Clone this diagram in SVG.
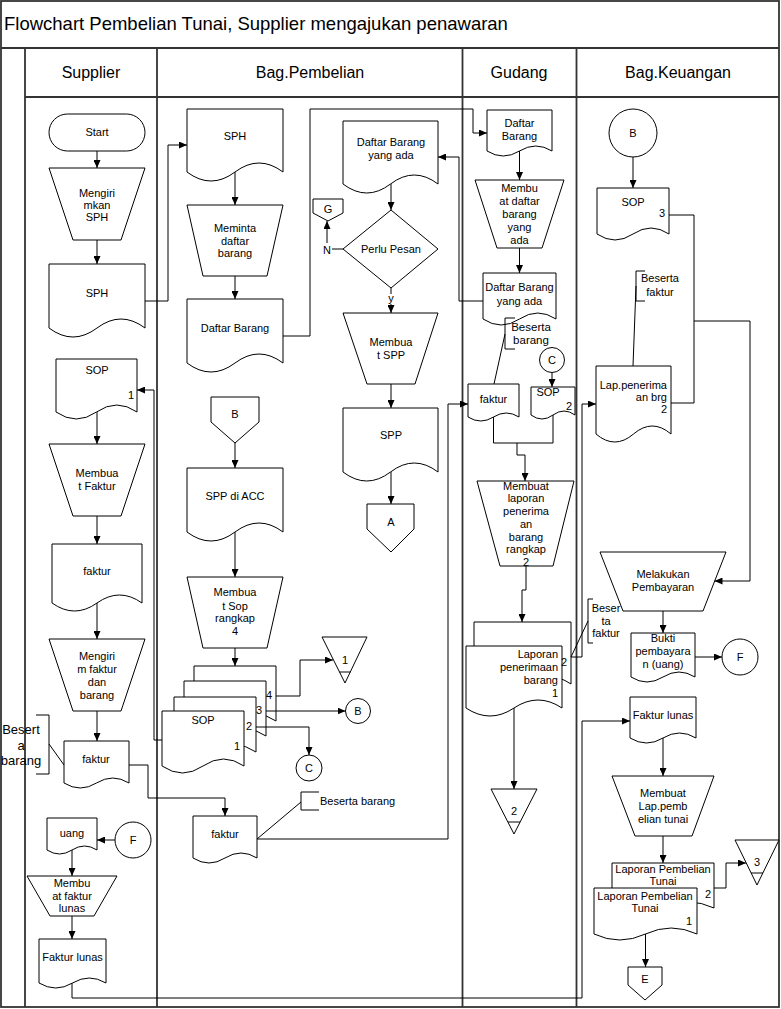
<svg xmlns="http://www.w3.org/2000/svg" width="781" height="1009" viewBox="0 0 781 1009">
<style>
.frame{fill:none;stroke:#333;stroke-width:1.8}
.s{fill:#fff;stroke:#000;stroke-width:1}
.c{fill:none;stroke:#000;stroke-width:1}
.a{marker-end:url(#arr)}
text{font-family:"Liberation Sans",Arial,Helvetica,sans-serif;font-size:11px;fill:#000;text-anchor:middle}
.title{font-size:18.5px;text-anchor:start}
.hdr{font-size:16px}
.e{text-anchor:end}
.st{text-anchor:start}
.big{font-size:13px}
</style>
<defs>
<marker id="arr" markerWidth="8" markerHeight="7" refX="8" refY="3.5" orient="auto" markerUnits="userSpaceOnUse"><path d="M0,0 L8,3.5 L0,7 z" fill="#000"/></marker>
</defs>
<rect width="781" height="1009" fill="#fff"/>
<g id="frame">
<rect x="1" y="1" width="778" height="1006" class="frame"/>
<path class="frame" d="M1,48 H779 M25,97 H779 M25,48 V1007 M157,48 V1007 M462.5,48 V1007 M576.5,48 V1007"/>
<text x="4" y="30" class="title">Flowchart Pembelian Tunai, Supplier mengajukan penawaran</text>
<text x="91" y="78" class="hdr">Supplier</text>
<text x="310" y="78" class="hdr">Bag.Pembelian</text>
<text x="519" y="78" class="hdr">Gudang</text>
<text x="678" y="78" class="hdr">Bag.Keuangan</text>
</g>

<g id="supplier">
<g id="s-start"><rect x="49" y="114" width="96" height="37" rx="18.5" class="s"/><text x="97" y="136">Start</text></g>
<g id="s-kirim-sph"><path class="s" d="M49,168 H145 L121,240 H73 Z"/><text x="97" y="197">Mengiri</text><text x="97" y="209">mkan</text><text x="97" y="221">SPH</text></g>
<g id="s-sph"><path class="s" d="M49,264 h96 v64 q-24,-18 -48,0 t-48,0 z"/><text x="97" y="297">SPH</text></g>
<g id="s-sop"><path class="s" d="M56,359 h81 v53 q-20.25,-14 -40.5,0 t-40.5,0 z"/><text x="97" y="374">SOP</text><text x="131" y="399">1</text></g>
<g id="s-buat-faktur"><path class="s" d="M49,444 H145 L121,516 H73 Z"/><text x="97" y="477">Membua</text><text x="97" y="490">t Faktur</text></g>
<g id="s-faktur"><path class="s" d="M52,544 h90 v59 q-22.5,-16 -45,0 t-45,0 z"/><text x="97" y="575">faktur</text></g>
<g id="s-kirim-faktur"><path class="s" d="M49,639 H145 L121,711 H73 Z"/><text x="97" y="660">Mengiri</text><text x="97" y="673">m faktur</text><text x="97" y="686">dan</text><text x="97" y="699">barang</text></g>
<g id="s-faktur2"><path class="s" d="M64,741 h65 v42 q-16.25,-10 -32.5,0 t-32.5,0 z"/><text x="96" y="763">faktur</text></g>
<g id="s-note"><path class="c" d="M36,715 H49 V774 H36 M49,744 L64,765"/><text x="21" y="734" class="big">Besert</text><text x="21" y="750" class="big">a</text><text x="21" y="765" class="big">barang</text></g>
<g id="s-uang"><path class="s" d="M47,818 h50 v32 q-12.5,-8 -25,0 t-25,0 z"/><text x="72" y="837">uang</text></g>
<g id="s-f"><circle cx="133" cy="840" r="18" class="s"/><text x="133" y="844">F</text></g>
<g id="s-buat-lunas"><path class="s" d="M27,876 H117 L94,916 H50 Z"/><text x="72" y="887">Membu</text><text x="72" y="899.5">at faktur</text><text x="72" y="912">lunas</text></g>
<g id="s-lunas"><path class="s" d="M39,939 h67 v44 q-16.75,-10 -33.5,0 t-33.5,0 z"/><text x="72.5" y="961">Faktur lunas</text></g>
</g>

<g id="pembelian">
<g id="p-sph"><path class="s" d="M187,109 h96 v63 q-24,-18 -48,0 t-48,0 z"/><text x="235" y="140">SPH</text></g>
<g id="p-minta"><path class="s" d="M187,205 H283 L267,276 H203 Z"/><text x="235" y="232">Meminta</text><text x="235" y="244.5">daftar</text><text x="235" y="257">barang</text></g>
<g id="p-daftar"><path class="s" d="M187,299 h96 v64 q-24,-18 -48,0 t-48,0 z"/><text x="235" y="332">Daftar Barang</text></g>
<g id="p-dbya"><path class="s" d="M343,121 h95 v63 q-23.75,-18 -47.5,0 t-47.5,0 z"/><text x="391" y="146">Daftar Barang</text><text x="391" y="159">yang ada</text></g>
<g id="p-perlu"><path class="s" d="M391,210 L438,249 L391,288 L343,249 Z"/><text x="391" y="253">Perlu Pesan</text></g>
<g id="p-g"><path class="s" d="M313,199 H343 V213 L328,221 L313,213 Z"/><text x="328" y="213">G</text></g>
<text x="327" y="254">N</text>
<text x="391" y="302">y</text>
<g id="p-buat-spp"><path class="s" d="M343,313 H438 L415,384 H367 Z"/><text x="391" y="346">Membua</text><text x="391" y="358.5">t SPP</text></g>
<g id="p-spp"><path class="s" d="M343,408 h95 v64 q-23.75,-18 -47.5,0 t-47.5,0 z"/><text x="391" y="439">SPP</text></g>
<g id="p-a"><path class="s" d="M367,504 H414 V529 L391,552 L367,529 Z"/><text x="391" y="526">A</text></g>
<g id="p-b"><path class="s" d="M211,397 H259 V422 L235,443 L211,422 Z"/><text x="235" y="418">B</text></g>
<g id="p-acc"><path class="s" d="M187,468 h96 v64 q-24,-18 -48,0 t-48,0 z"/><text x="235" y="500">SPP di ACC</text></g>
<g id="p-buat-sop"><path class="s" d="M187,577 H283 L267,648 H203 Z"/><text x="235" y="596">Membua</text><text x="235" y="609.5">t Sop</text><text x="235" y="622">rangkap</text><text x="235" y="635">4</text></g>
<g id="p-sop-stack">
<path class="s" d="M194,666 h82 v55 q-20.5,-14 -41,0 t-41,0 z"/>
<path class="s" d="M184,681 h82 v55 q-20.5,-14 -41,0 t-41,0 z"/>
<path class="s" d="M174,697 h82 v55 q-20.5,-14 -41,0 t-41,0 z"/>
<path class="s" d="M162,711 h82 v55 q-20.5,-14 -41,0 t-41,0 z"/>
<text x="269" y="699">4</text><text x="259" y="714">3</text><text x="249" y="730">2</text>
<text x="203" y="724">SOP</text><text x="237" y="750">1</text>
</g>
<g id="p-t1"><path class="s" d="M322,637 H367 L345,683 Z M339.5,672 H350.5"/><text x="345" y="664">1</text></g>
<g id="p-cb"><circle cx="358" cy="711" r="12.5" class="s"/><text x="358" y="715">B</text></g>
<g id="p-cc"><circle cx="309" cy="768" r="13" class="s"/><text x="309" y="772">C</text></g>
<g id="p-faktur"><path class="s" d="M193,816 h64 v42 q-16,-10 -32,0 t-32,0 z"/><text x="225" y="838">faktur</text></g>
<g id="p-note"><path class="c" d="M319,792 H301 V810 H319 M301,802 L257,839"/><text x="320" y="805" class="st">Beserta barang</text></g>
</g>

<g id="gudang">
<g id="g-daftar"><path class="s" d="M487,110 h65 v41 q-16.25,-10 -32.5,0 t-32.5,0 z"/><text x="519.5" y="127">Daftar</text><text x="519.5" y="140">Barang</text></g>
<g id="g-buat-daftar"><path class="s" d="M475,180 H564 L542,248 H497 Z"/><text x="519.5" y="192">Membu</text><text x="519.5" y="205">at daftar</text><text x="519.5" y="218">barang</text><text x="519.5" y="231">yang</text><text x="519.5" y="244">ada</text></g>
<g id="g-dbya"><path class="s" d="M483,273 h73 v46 q-18.25,-12 -36.5,0 t-36.5,0 z"/><text x="519.5" y="291">Daftar Barang</text><text x="519.5" y="305">yang ada</text></g>
<g id="g-note"><path class="c" d="M515,318 H505 V349 H515 M505,334 L494,384"/><text x="531" y="331" style="font-size:11.5px">Beserta</text><text x="531" y="343.5" style="font-size:11.5px">barang</text></g>
<g id="g-faktur"><path class="s" d="M468,384 h51 v33 q-12.75,-8 -25.5,0 t-25.5,0 z"/><text x="493.5" y="403">faktur</text></g>
<g id="g-c"><circle cx="552" cy="360" r="12.5" class="s"/><text x="552" y="364">C</text></g>
<g id="g-sop"><path class="s" d="M531,387 h44 v28 q-11,-8 -22,0 t-22,0 z"/><text x="548" y="396">SOP</text><text x="569" y="410">2</text></g>
<g id="g-buat-lap"><path class="s" d="M477,481 H574 L553,566 H500 Z"/><text x="526" y="489.5">Membuat</text><text x="526" y="502.3">laporan</text><text x="526" y="515">penerima</text><text x="526" y="527.8">an</text><text x="526" y="540.5">barang</text><text x="526" y="553.3">rangkap</text><text x="526" y="566">2</text></g>
<g id="g-lap">
<path class="s" d="M474,622 h97 v62 q-24.25,-16 -48.5,0 t-48.5,0 z"/>
<path class="s" d="M466,646 h96 v62 q-24,-16 -48,0 t-48,0 z"/>
<text x="564" y="666">2</text>
<text x="558" y="658" class="e">Laporan</text><text x="558" y="671" class="e">penerimaan</text><text x="558" y="684" class="e">barang</text><text x="558" y="697" class="e">1</text>
</g>
<g id="g-t2"><path class="s" d="M491,789 H537 L514,834 Z M508,822 H520"/><text x="514" y="815">2</text></g>
<g id="g-note2"><path class="c" d="M593,599 H588 V643 H593 M588,621 L571,657"/><text x="606" y="612">Beser</text><text x="606" y="624.5">ta</text><text x="606" y="637">faktur</text></g>
</g>

<g id="keuangan">
<g id="k-b"><circle cx="633" cy="133" r="24" class="s"/><text x="633" y="137">B</text></g>
<g id="k-sop"><path class="s" d="M597,188 h72 v46 q-18,-12 -36,0 t-36,0 z"/><text x="633" y="206">SOP</text><text x="662" y="217">3</text></g>
<g id="k-note"><path class="c" d="M645,271 H636 V301 H645 M636,286 L633,366"/><text x="660" y="282">Beserta</text><text x="660" y="296">faktur</text></g>
<g id="k-lap"><path class="s" d="M596,366 h75 v68 q-18.75,-16 -37.5,0 t-37.5,0 z"/><text x="667" y="389" class="e">Lap.penerima</text><text x="667" y="401" class="e">an brg</text><text x="667" y="413" class="e">2</text></g>
<g id="k-bayar"><path class="s" d="M600,552 H726 L703,611 H623 Z"/><text x="663" y="578">Melakukan</text><text x="663" y="591">Pembayaran</text></g>
<g id="k-bukti"><path class="s" d="M631,633 h64 v44 q-16,-10 -32,0 t-32,0 z"/><text x="663" y="642">Bukti</text><text x="663" y="655">pembayara</text><text x="663" y="668">n (uang)</text></g>
<g id="k-f"><circle cx="740" cy="657" r="18" class="s"/><text x="740" y="661">F</text></g>
<g id="k-lunas"><path class="s" d="M630,697 h66 v41 q-16.5,-10 -33,0 t-33,0 z"/><text x="663" y="719">Faktur lunas</text></g>
<g id="k-buat-lap"><path class="s" d="M612,776 H714 L692,836 H635 Z"/><text x="663" y="797">Membuat</text><text x="663" y="810">Lap.pemb</text><text x="663" y="823">elian tunai</text></g>
<g id="k-lpt">
<path class="s" d="M612,863 h102 v45 q-25.5,-12 -51,0 t-51,0 z"/>
<text x="663" y="873">Laporan Pembelian</text><text x="663" y="885">Tunai</text><text x="708" y="898">2</text>
<path class="s" d="M594,888 h103 v46 q-25.75,-12 -51.5,0 t-51.5,0 z"/>
<text x="645" y="900">Laporan Pembelian</text><text x="645" y="911.5">Tunai</text><text x="689" y="925">1</text>
</g>
<g id="k-t3"><path class="s" d="M735,840 H779 L757,885 Z M751,873 H763"/><text x="757" y="866">3</text></g>
<g id="k-e"><path class="s" d="M628,967 H662 V985 L645,1000 L628,985 Z"/><text x="645" y="983">E</text></g>
</g>

<g id="connectors">
<path class="c a" d="M97,151 V168"/>
<path class="c a" d="M97,240 V264"/>
<path class="c a" d="M145,301 H168 V145 H187"/>
<path class="c a" d="M97,412 V444"/>
<path class="c a" d="M97,516 V544"/>
<path class="c a" d="M97,603 V639"/>
<path class="c a" d="M97,711 V741"/>
<path class="c a" d="M129,765 H148 V798 H225 V816"/>
<path class="c a" d="M115,840 H97"/>
<path class="c a" d="M72,850 V876"/>
<path class="c a" d="M72,916 V939"/>
<path class="c a" d="M72,983 V998 H582 V721 H630"/>
<path class="c a" d="M235,172 V205"/>
<path class="c a" d="M235,276 V299"/>
<path class="c a" d="M283,336 H310 V109 H473 V133 H487"/>
<path class="c a" d="M483,301 H459 V157 H438"/>
<path class="c a" d="M391,184 V210"/>
<path class="c" d="M343,249 H332"/>
<path class="c a" d="M327,243 V221"/>
<path class="c" d="M391,288 V294"/>
<path class="c a" d="M391,304 V313"/>
<path class="c a" d="M391,384 V408"/>
<path class="c a" d="M391,472 V504"/>
<path class="c a" d="M235,443 V468"/>
<path class="c a" d="M235,532 V577"/>
<path class="c a" d="M235,648 V666"/>
<path class="c a" d="M276,696 H300 V660 H333"/>
<path class="c a" d="M266,711 H345.5"/>
<path class="c a" d="M256,727 H309 V755"/>
<path class="c a" d="M162,740 H154 V390 H137"/>
<path class="c a" d="M257,839 H448 V404 H468"/>
<path class="c a" d="M519.5,151 V180"/>
<path class="c a" d="M519.5,248 V273"/>
<path class="c a" d="M552,372.5 V387"/>
<path class="c" d="M493.5,417 V443 H553 V415"/>
<path class="c a" d="M517,443 V455 H525 V481"/>
<path class="c a" d="M526,566 V590 H522 V622"/>
<path class="c a" d="M571,657 H582 V404 H596"/>
<path class="c a" d="M514,708 V789"/>
<path class="c a" d="M633,157 V188"/>
<path class="c a" d="M669,215 H694 V321 H750 V581 H714.5"/>
<path class="c" d="M671,403 H694 V321"/>
<path class="c a" d="M663,611 V633"/>
<path class="c a" d="M695,657 H722"/>
<path class="c a" d="M663,738 V776"/>
<path class="c a" d="M663,836 V863"/>
<path class="c a" d="M714,888 H726 V863 H746"/>
<path class="c a" d="M645.5,934 V967"/>
</g>
</svg>
